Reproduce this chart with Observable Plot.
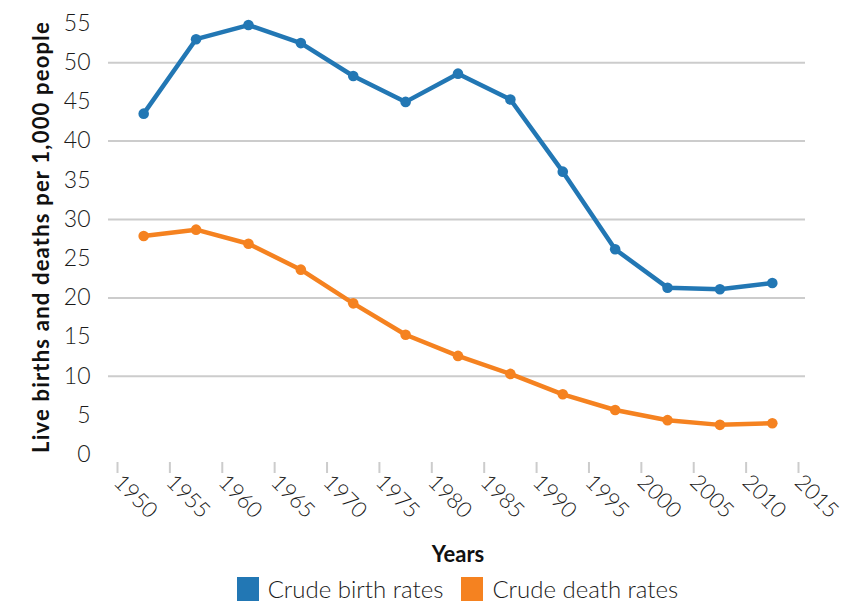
<!DOCTYPE html>
<html>
<head>
<meta charset="utf-8">
<script src="https://cdn.jsdelivr.net/npm/d3@7"></script>
<script src="https://cdn.jsdelivr.net/npm/@observablehq/plot@0.6"></script>
<style>
  body { margin: 0; background: #fff; font-family: Lato, "Open Sans", sans-serif; }
  #chart { width: 853px; }
  .legend { display: flex; justify-content: center; align-items: flex-start; gap: 18px; font-family: Lato, sans-serif; font-weight: 300; font-size: 24px; line-height: 26px; color: #1a1a1a; height: 33px; padding-top: 6px; box-sizing: border-box; padding-left: 62px; }
  .legend span.sw { display: inline-block; width: 22px; height: 24px; margin-right: 9px; }
  .legend .item { display: flex; align-items: center; }
  .ylab text { letter-spacing: 1.2px; }
</style>
</head>
<body>
<div id="chart"></div>
<script>
const years = [1952.5, 1957.5, 1962.5, 1967.5, 1972.5, 1977.5, 1982.5, 1987.5, 1992.5, 1997.5, 2002.5, 2007.5, 2012.5];
const birthRates = [43.5, 53.0, 54.8, 52.5, 48.3, 45.0, 48.6, 45.3, 36.1, 26.2, 21.3, 21.1, 21.9];
const deathRates = [27.9, 28.7, 26.9, 23.6, 19.3, 15.3, 12.6, 10.3, 7.7, 5.7, 4.4, 3.8, 4.0];
const xTicks = [1950, 1955, 1960, 1965, 1970, 1975, 1980, 1985, 1990, 1995, 2000, 2005, 2010, 2015];
const yTicks = [0, 5, 10, 15, 20, 25, 30, 35, 40, 45, 50, 55];
const gridValues = [10, 20, 30, 40, 50];
const seriesNames = ["Crude birth rates", "Crude death rates"];
const seriesColors = ["#2277b4", "#f58220"];
const yLabel = "Live births and deaths per 1,000 people";
const xLabel = "Years";

const data = [];
years.forEach((yr, i) => {
  data.push({year: yr, value: birthRates[i], series: seriesNames[0]});
  data.push({year: yr, value: deathRates[i], series: seriesNames[1]});
});

const chart = Plot.plot({
  width: 853,
  height: 570,
  marginLeft: 117,
  marginRight: 55,
  marginTop: 23,
  marginBottom: 108,
  style: {fontFamily: "Lato, 'Open Sans', sans-serif", fontSize: "22px", fontWeight: 300, color: "#1a1a1a", background: "#fff"},
  x: {domain: [1950, 2015]},
  y: {domain: [-1, 55]},
  color: {domain: seriesNames, range: seriesColors},
  marks: [
    Plot.ruleY(gridValues, {stroke: "#cccccc", strokeWidth: 2, insetLeft: -9, insetRight: -7}),
    Plot.axisY({ticks: yTicks, tickSize: 0, tickPadding: 27, label: null, fontSize: 23}),
    Plot.text([yLabel], {frameAnchor: "left", text: d => d, rotate: -90, dx: -76, dy: -6, lineAnchor: "middle", textAnchor: "middle", fontWeight: "bold", fontSize: 22, fill: "#111", className: "ylab"}),
    Plot.axisX({ticks: xTicks, tickFormat: d => String(d), tickSize: 11, stroke: "#cccccc", strokeWidth: 2, tickRotate: 45, tickPadding: 5, fontSize: 22, label: null}),
    Plot.text([xLabel], {frameAnchor: "bottom", text: d => d, dy: 92, lineAnchor: "middle", textAnchor: "middle", fontWeight: "bold", fontSize: 22, fill: "#111"}),
    Plot.line(data, {x: "year", y: "value", stroke: "series", strokeWidth: 4.5}),
    Plot.dot(data, {x: "year", y: "value", fill: "series", r: 5.3})
  ]
});
document.getElementById("chart").appendChild(chart);

const legend = document.createElement("div");
legend.className = "legend";
seriesNames.forEach((name, i) => {
  const item = document.createElement("div");
  item.className = "item";
  const sw = document.createElement("span");
  sw.className = "sw";
  sw.style.background = seriesColors[i];
  item.appendChild(sw);
  item.appendChild(document.createTextNode(name));
  legend.appendChild(item);
});
document.getElementById("chart").appendChild(legend);
</script>
</body>
</html>
